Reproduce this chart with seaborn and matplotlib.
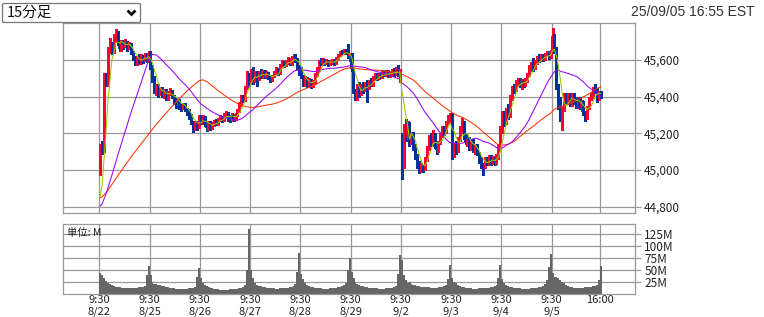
import numpy as np
import pandas as pd
import matplotlib
matplotlib.use("Agg")
import matplotlib.pyplot as plt
import seaborn as sns
from matplotlib.patches import FancyBboxPatch
from matplotlib.lines import Line2D

# ---------------- data ----------------
days = ["8/22", "8/25", "8/26", "8/27", "8/28", "8/29", "9/2", "9/3", "9/4", "9/5"]
bars_per_day = 26
day_opens = [44990, 45640, 45290, 45480, 45540, 45630, 45190, 45300, 45220, 45645]

closes = [
    45130, 45100, 45520, 45470, 45660, 45690, 45650, 45720, 45740, 45690, 45660, 45700, 45680,
    45700, 45670, 45690, 45640, 45610, 45580, 45610, 45590, 45620, 45600, 45630, 45600, 45640,
    45560, 45500, 45430, 45460, 45420, 45440, 45410, 45430, 45390, 45420, 45430, 45400, 45380,
    45370, 45380, 45350, 45340, 45360, 45330, 45310, 45300, 45260, 45230, 45260, 45240, 45290,
    45260, 45290, 45250, 45230, 45260, 45230, 45250, 45270, 45250, 45280, 45290, 45270, 45300,
    45310, 45290, 45280, 45300, 45280, 45300, 45320, 45360, 45400, 45380, 45450, 45520, 45480,
    45520, 45490, 45530, 45500, 45530, 45510, 45540, 45510, 45530, 45505, 45490, 45510, 45530,
    45550, 45530, 45570, 45590, 45570, 45590, 45600, 45580, 45610, 45620, 45600, 45560, 45540,
    45510, 45470, 45500, 45460, 45490, 45460, 45480, 45520, 45550, 45590, 45580, 45600, 45585,
    45595, 45575, 45590, 45600, 45585, 45605, 45625, 45645, 45635, 45650, 45640, 45620, 45630,
    45550, 45430, 45400, 45460, 45420, 45460, 45440, 45470, 45450, 45480, 45470, 45500, 45520,
    45500, 45520, 45510, 45530, 45520, 45535, 45515, 45530, 45540, 45525, 45550, 45520, 45540,
    45030, 45230, 45180, 45250, 45150, 45200, 45130, 45080, 45030, 45000, 45020, 45010, 45060,
    45120, 45180, 45140, 45190, 45130, 45110, 45150, 45190, 45230, 45210, 45260, 45280, 45300,
    45080, 45140, 45110, 45170, 45230, 45260, 45180, 45150, 45170, 45120, 45160, 45110, 45130,
    45090, 45050, 45030, 45020, 45060, 45040, 45070, 45045, 45060, 45040, 45075, 45130, 45220,
    45300, 45260, 45330, 45300, 45400, 45450, 45440, 45480, 45490, 45460, 45485, 45470, 45490,
    45520, 45560, 45580, 45560, 45590, 45610, 45600, 45620, 45605, 45630, 45640, 45615, 45645,
    45730, 45660, 45460, 45350, 45290, 45330, 45410, 45370, 45410, 45360, 45410, 45380, 45350,
    45390, 45340, 45370, 45310, 45290, 45340, 45390, 45410, 45440, 45430, 45390, 45420, 45405,
]

highs = [
    45140, 45160, 45530, 45530, 45670, 45720, 45700, 45740, 45770, 45760, 45700, 45710, 45710,
    45715, 45705, 45700, 45695, 45650, 45620, 45620, 45630, 45630, 45625, 45640, 45640, 45650,
    45650, 45570, 45510, 45470, 45470, 45450, 45450, 45440, 45440, 45430, 45445, 45435, 45410,
    45390, 45390, 45385, 45360, 45365, 45365, 45340, 45330, 45305, 45270, 45270, 45265, 45300,
    45300, 45300, 45295, 45260, 45270, 45265, 45260, 45275, 45280, 45285, 45300, 45295, 45310,
    45320, 45315, 45300, 45310, 45305, 45310, 45330, 45370, 45410, 45410, 45460, 45540, 45530,
    45550, 45560, 45540, 45540, 45540, 45550, 45545, 45545, 45540, 45535, 45515, 45520, 45540,
    45560, 45555, 45580, 45600, 45595, 45600, 45615, 45610, 45620, 45635, 45630, 45610, 45570,
    45560, 45520, 45510, 45505, 45500, 45495, 45490, 45530, 45560, 45600, 45610, 45610, 45605,
    45605, 45600, 45600, 45605, 45605, 45615, 45630, 45650, 45655, 45660, 45660, 45685, 45640,
    45640, 45560, 45440, 45470, 45480, 45470, 45480, 45480, 45490, 45490, 45500, 45510, 45530,
    45530, 45530, 45530, 45540, 45545, 45545, 45545, 45540, 45550, 45555, 45560, 45575, 45550,
    45200, 45250, 45280, 45270, 45260, 45210, 45210, 45140, 45090, 45050, 45040, 45030, 45070,
    45130, 45190, 45200, 45220, 45200, 45140, 45160, 45200, 45240, 45240, 45270, 45300, 45310,
    45310, 45150, 45160, 45180, 45240, 45285, 45270, 45200, 45180, 45180, 45170, 45170, 45140,
    45140, 45100, 45070, 45040, 45070, 45070, 45080, 45080, 45075, 45070, 45085, 45140, 45240,
    45320, 45320, 45340, 45360, 45410, 45460, 45470, 45490, 45500, 45500, 45495, 45495, 45500,
    45530, 45570, 45590, 45610, 45600, 45620, 45630, 45630, 45635, 45640, 45650, 45650, 45655,
    45775, 45740, 45670, 45470, 45400, 45350, 45420, 45420, 45420, 45420, 45420, 45420, 45400,
    45400, 45400, 45380, 45375, 45320, 45350, 45400, 45420, 45450, 45470, 45445, 45430, 45430,
]

lows = [
    44975, 45090, 45100, 45460, 45460, 45640, 45630, 45640, 45700, 45680, 45650, 45650, 45660,
    45670, 45650, 45660, 45630, 45600, 45570, 45570, 45580, 45580, 45585, 45595, 45590, 45590,
    45550, 45480, 45420, 45410, 45400, 45410, 45400, 45395, 45380, 45380, 45410, 45390, 45360,
    45340, 45355, 45330, 45320, 45330, 45320, 45300, 45280, 45250, 45210, 45220, 45220, 45230,
    45250, 45250, 45240, 45215, 45220, 45220, 45225, 45240, 45245, 45245, 45270, 45260, 45265,
    45290, 45270, 45260, 45270, 45265, 45275, 45295, 45315, 45350, 45370, 45375, 45440, 45460,
    45470, 45470, 45480, 45460, 45490, 45500, 45500, 45500, 45505, 45495, 45480, 45485, 45505,
    45525, 45520, 45525, 45560, 45560, 45565, 45580, 45570, 45575, 45600, 45590, 45550, 45520,
    45500, 45460, 45460, 45450, 45450, 45445, 45450, 45470, 45510, 45540, 45570, 45575, 45575,
    45580, 45565, 45570, 45580, 45575, 45580, 45600, 45620, 45630, 45630, 45630, 45610, 45595,
    45540, 45420, 45380, 45380, 45400, 45410, 45420, 45430, 45370, 45440, 45460, 45460, 45490,
    45490, 45495, 45500, 45500, 45510, 45515, 45505, 45505, 45520, 45515, 45520, 45510, 45480,
    44950, 45010, 45160, 45170, 45130, 45140, 45110, 45060, 45010, 44985, 44990, 44990, 45000,
    45050, 45110, 45130, 45130, 45120, 45090, 45100, 45140, 45180, 45190, 45200, 45250, 45260,
    45060, 45070, 45090, 45100, 45160, 45200, 45170, 45140, 45130, 45110, 45110, 45100, 45090,
    45080, 45040, 45010, 44975, 45010, 45030, 45030, 45030, 45035, 45030, 45035, 45060, 45120,
    45200, 45240, 45250, 45280, 45290, 45380, 45420, 45430, 45460, 45450, 45440, 45450, 45460,
    45480, 45510, 45540, 45540, 45550, 45580, 45590, 45595, 45595, 45600, 45620, 45605, 45610,
    45640, 45640, 45440, 45330, 45270, 45220, 45320, 45360, 45360, 45350, 45350, 45360, 45340,
    45340, 45330, 45320, 45300, 45270, 45280, 45330, 45380, 45390, 45420, 45370, 45380, 45390,
]

volumes = [  # millions of shares per 15-min bar
    42, 38, 32, 26, 22, 19, 17, 15, 14, 13, 13, 12, 12, 12, 11, 11, 12, 12, 12, 12, 13, 13, 14, 16, 39, 58,
    38, 25, 20, 19, 18, 17, 16, 15, 14, 13, 12, 11, 11, 10, 10, 10, 9, 9, 10, 10, 11, 11, 12, 14, 35, 53,
    32, 22, 18, 16, 14, 12, 11, 10, 9, 9, 8, 8, 8, 8, 8, 9, 9, 9, 10, 10, 11, 12, 14, 18, 49, 135,
    48, 32, 22, 18, 16, 15, 14, 13, 12, 12, 11, 11, 11, 10, 10, 11, 11, 11, 12, 12, 13, 14, 16, 20, 45, 84,
    40, 30, 22, 18, 16, 14, 13, 12, 12, 11, 11, 10, 10, 10, 10, 11, 11, 12, 12, 13, 14, 16, 18, 22, 50, 74,
    45, 32, 24, 20, 18, 16, 15, 14, 13, 12, 12, 11, 11, 11, 10, 10, 10, 10, 11, 11, 12, 12, 13, 15, 40, 81,
    70, 38, 28, 22, 23, 20, 18, 17, 16, 15, 14, 14, 13, 13, 13, 12, 12, 12, 12, 13, 13, 14, 15, 18, 30, 60,
    32, 25, 21, 18, 16, 14, 13, 12, 12, 11, 11, 10, 10, 10, 11, 11, 11, 12, 12, 12, 13, 14, 15, 18, 32, 60,
    30, 22, 18, 16, 14, 13, 12, 12, 11, 11, 10, 10, 10, 10, 10, 11, 11, 12, 12, 13, 14, 16, 20, 28, 56, 83,
    42, 35, 34, 33, 28, 24, 22, 18, 16, 14, 13, 12, 12, 12, 12, 12, 12, 13, 13, 13, 14, 15, 16, 18, 28, 58,
]

prior_day_avg = [44900, 44790]   # average close of 8/20 and 8/21 (moving-average warm-up)
ma_windows = [52, 26, 5]
ma_colors = ["#FF3300", "#9900FF", "#99CC00"]
price_ticks = [44800, 45000, 45200, 45400, 45600]
vol_ticks = [25, 50, 75, 100, 125]
vol_tick_labels = ["25M", "50M", "75M", "100M", "125M"]
x_labels = [f"9:30\n{d}" for d in days] + ["16:00"]

# ---------------- derived ----------------
n = len(closes)
idx = np.arange(n)
opens = [day_opens[i // bars_per_day] if i % bars_per_day == 0 else closes[i - 1] for i in range(n)]
o = np.array(opens, float)
c = np.array(closes, float)
h = np.maximum(np.array(highs, float), np.maximum(o, c))
l = np.minimum(np.array(lows, float), np.minimum(o, c))
up = c >= o

warm = []
for v in prior_day_avg:
    warm += [v] * bars_per_day
series = pd.Series(warm + closes, dtype=float)

tick_pos = [d * bars_per_day for d in range(len(days))] + [n - 1]

# ---------------- style ----------------
sns.set_theme(style="white")
plt.rcParams["font.family"] = ["Noto Sans CJK JP", "DejaVu Sans"]

W, H = 764, 317
fig = plt.figure(figsize=(W / 100, H / 100), dpi=100)
fig.patch.set_facecolor("white")

def fx(px):
    return px / W

def fy(py):
    return 1 - py / H

ax = fig.add_axes([fx(63.3), fy(213.3), fx(634.5) - fx(63.3), fy(23.3) - fy(213.3)])
axv = fig.add_axes([fx(63.3), fy(293.5), fx(634.5) - fx(63.3), fy(224) - fy(293.5)])

grid_c = "#999999"
red_c = "#FF0033"
blue_c = "#003399"

for a in (ax, axv):
    a.set_facecolor("white")
    for s in a.spines.values():
        s.set_color(grid_c)
        s.set_linewidth(0.9)
    a.set_xlim(-18.6, 276.9)
    a.set_xticks(tick_pos)
    a.grid(True, color=grid_c, linewidth=0.9)
    a.set_axisbelow(True)
    a.yaxis.tick_right()
    a.tick_params(axis="y", which="both", length=4, width=0.8, color=grid_c,
                  labelsize=8.5, labelcolor="#222222", pad=3, right=True, left=False)

# ---------------- price panel ----------------
ax.set_ylim(44764, 45800)
ax.set_yticks(price_ticks)
ax.set_yticklabels([f"{v:,}" for v in price_ticks])
ax.tick_params(axis="x", length=0, labelbottom=False)

cols = np.where(up, red_c, blue_c)
ax.vlines(idx + 0.5, l, h, colors=cols, linewidth=0.8, zorder=2, antialiased=False)
body_h = np.maximum(np.abs(c - o), 4)
ax.bar(idx + 0.5, body_h, bottom=np.minimum(o, c), width=1.15, align="center",
       color=cols, linewidth=0, zorder=2, antialiased=False)

for win, colr in zip(ma_windows, ma_colors):
    ma = series.rolling(win).mean().to_numpy()[-n:]
    sns.lineplot(x=idx + 0.5, y=ma, ax=ax, color=colr, linewidth=0.75,
                 legend=False, zorder=3)
ax.set_xlabel("")
ax.set_ylabel("")

# ---------------- volume panel ----------------
axv.bar(idx, volumes, width=1.05, align="edge", color="#666666", linewidth=0,
        zorder=2, antialiased=False)
axv.set_ylim(0, 145)
axv.set_yticks(vol_ticks)
axv.set_yticklabels(vol_tick_labels)
axv.set_xticklabels(x_labels)
axv.tick_params(axis="x", length=0, pad=1, labelsize=8, labelcolor="#222222")
axv.text(0.007, 0.87, "単位: M", transform=axv.transAxes, fontsize=7.5,
         color="#222222", va="center", ha="left")

# ---------------- header ----------------
fig.text(fx(755), fy(12), "25/09/05 16:55 EST", ha="right", va="center",
         fontsize=10, color="#333333", family=["Liberation Sans", "DejaVu Sans"])

box = FancyBboxPatch((fx(2.5), fy(22.5)), fx(138), 19 / H,
                     boxstyle="round,pad=0,rounding_size=0.003",
                     transform=fig.transFigure, facecolor="white",
                     edgecolor="#767676", linewidth=0.9)
fig.patches.append(box)
fig.text(fx(7), fy(12.5), "15分足", ha="left", va="center", fontsize=10.5, color="#111111")
fig.lines.append(Line2D([fx(127.5), fx(131.5), fx(135.5)], [fy(10.5), fy(14.5), fy(10.5)],
                        transform=fig.transFigure, color="#111111", linewidth=2.0,
                        solid_capstyle="butt", solid_joinstyle="miter"))

fig.savefig("out.png", dpi=100)
